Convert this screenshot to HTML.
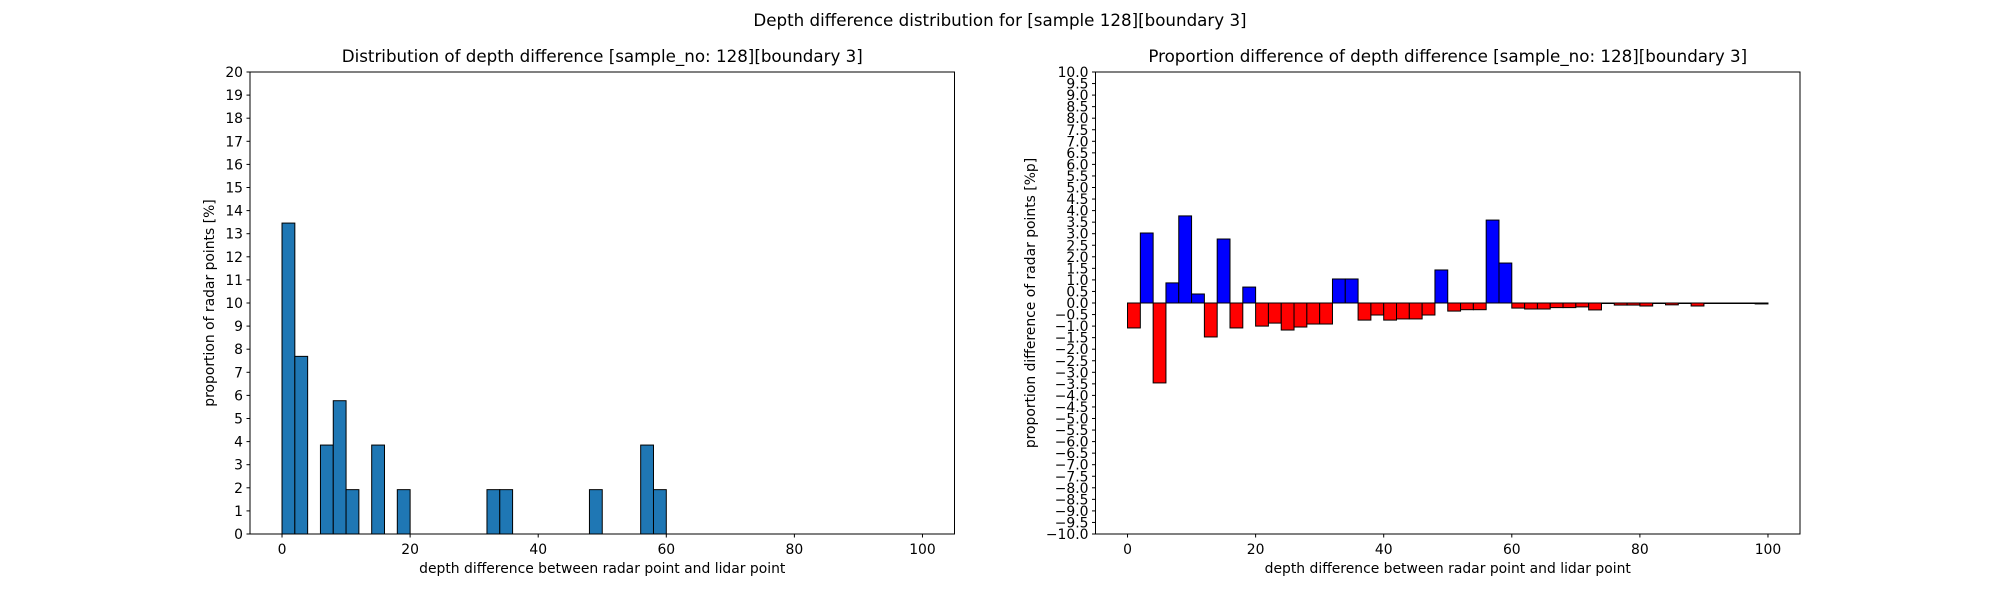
<!DOCTYPE html>
<html><head><meta charset="utf-8"><style>
html,body{margin:0;padding:0;background:#fff;}
svg{display:block;font-family:"DejaVu Sans","Liberation Sans",sans-serif;}
</style></head><body>
<svg id="fig" width="2000" height="600" viewBox="0 0 2000 600">
<rect width="2000" height="600" fill="#fff"/>
<text x="1000" y="26" font-size="16.7" text-anchor="middle">Depth difference distribution for [sample 128][boundary 3]</text>
<g id="left"></g>
<g id="right"></g>
</svg>
<script>
// Left histogram data (bin start, width 2)
const leftBins = [0, 2, 6, 8, 10, 14, 18, 32, 34, 48, 56, 58];
const leftValues = [13.46, 7.69, 3.85, 5.77, 1.92, 3.85, 1.92, 1.92, 1.92, 1.92, 3.85, 1.92];
const leftYTicks = [0,1,2,3,4,5,6,7,8,9,10,11,12,13,14,15,16,17,18,19,20];
const xTicks = [0, 20, 40, 60, 80, 100];
// Right difference data: 50 bins of width 2 from 0 to 100
const rightValues = [-1.08, 3.03, -3.46, 0.87, 3.77, 0.39, -1.47, 2.77, -1.08, 0.69,
  -1.0, -0.87, -1.17, -1.04, -0.91, -0.91, 1.04, 1.04, -0.74, -0.52,
  -0.74, -0.69, -0.69, -0.52, 1.43, -0.35, -0.29, -0.29, 3.59, 1.73,
  -0.22, -0.26, -0.26, -0.2, -0.2, -0.17, -0.3, -0.01, -0.09, -0.09,
  -0.13, -0.01, -0.08, -0.01, -0.13, -0.02, -0.02, -0.01, -0.01, -0.04];
const rightYTicks = [];
for (let i = -20; i <= 20; i++) rightYTicks.push(i / 2);

const NS = "http://www.w3.org/2000/svg";
function mk(tag, attrs, parent) {
  const e = document.createElementNS(NS, tag);
  for (const k in attrs) e.setAttribute(k, attrs[k]);
  parent.appendChild(e);
  return e;
}
const TOP = 72, BOT = 534, W = 704.5;
function drawAxes(g, x0, yMin, yMax, yTicks, fmt, title, ylabel, ylabelX) {
  const sx = v => x0 + (v + 5) / 110 * W;
  const sy = v => BOT - (v - yMin) / (yMax - yMin) * (BOT - TOP);
  const t = mk('text', {x: x0 + W / 2, y: 62, 'font-size': 16.7, 'text-anchor': 'middle'}, g);
  t.textContent = title;
  
  
  yTicks.forEach(v => {
    const y = sy(v);
    mk('line', {x1: x0 - 3.5, x2: x0, y1: y, y2: y, stroke: '#000', 'stroke-width': 1}, g);
    const tx = mk('text', {x: x0 - 7, y: y + 5, 'font-size': 13.9, 'text-anchor': 'end'}, g);
    tx.textContent = fmt(v);
    
    
  });
  xTicks.forEach(v => {
    const x = sx(v);
    mk('line', {x1: x, x2: x, y1: BOT, y2: BOT + 3.5, stroke: '#000', 'stroke-width': 1}, g);
    const tx = mk('text', {x: x, y: BOT + 20, 'font-size': 13.9, 'text-anchor': 'middle'}, g);
    tx.textContent = v;
    
    
  });
  const xl = mk('text', {x: x0 + W / 2, y: 573, 'font-size': 13.9, 'text-anchor': 'middle'}, g);
  xl.textContent = 'depth difference between radar point and lidar point';
  
  
  const yl = mk('text', {x: 0, y: 0, 'font-size': 13.9, 'text-anchor': 'middle', transform: `translate(${ylabelX},${(TOP + BOT) / 2}) rotate(-90)`}, g);
  yl.textContent = ylabel;
  
  
  return {sx, sy};
}
function frame(g, x0) {
  const r = mk('rect', {x: x0, y: TOP, width: W, height: BOT - TOP, fill: 'none', stroke: '#000', 'stroke-width': 1}, g);
  
  
}
// Left chart
const gl = document.getElementById('left');
const L = drawAxes(gl, 250, 0, 20, leftYTicks, v => String(v),
  'Distribution of depth difference [sample_no: 128][boundary 3]', 'proportion of radar points [%]', 214);
leftBins.forEach((b, i) => {
  const x1 = L.sx(b), x2 = L.sx(b + 2), y = L.sy(leftValues[i]), y0 = L.sy(0);
  const r = mk('rect', {x: x1, y: y, width: x2 - x1, height: y0 - y, fill: '#1f77b4', stroke: '#000', 'stroke-width': 1}, gl);
  
  
});
frame(gl, 250);
// Right chart
const gr = document.getElementById('right');
const R = drawAxes(gr, 1095.5, -10, 10, rightYTicks, v => (v < 0 ? '\u2212' : '') + Math.abs(v).toFixed(1),
  'Proportion difference of depth difference [sample_no: 128][boundary 3]', 'proportion difference of radar points [%p]', 1035);
rightValues.forEach((v, i) => {
  const x1 = R.sx(i * 2), x2 = R.sx(i * 2 + 2), y = R.sy(Math.max(v, 0)), y2 = R.sy(Math.min(v, 0));
  const r = mk('rect', {x: x1, y: y, width: x2 - x1, height: Math.max(y2 - y, 0.5), fill: v >= 0 ? '#0000ff' : '#ff0000', stroke: '#000', 'stroke-width': 1}, gr);
  
  
});
frame(gr, 1095.5);
</script>
</body></html>
